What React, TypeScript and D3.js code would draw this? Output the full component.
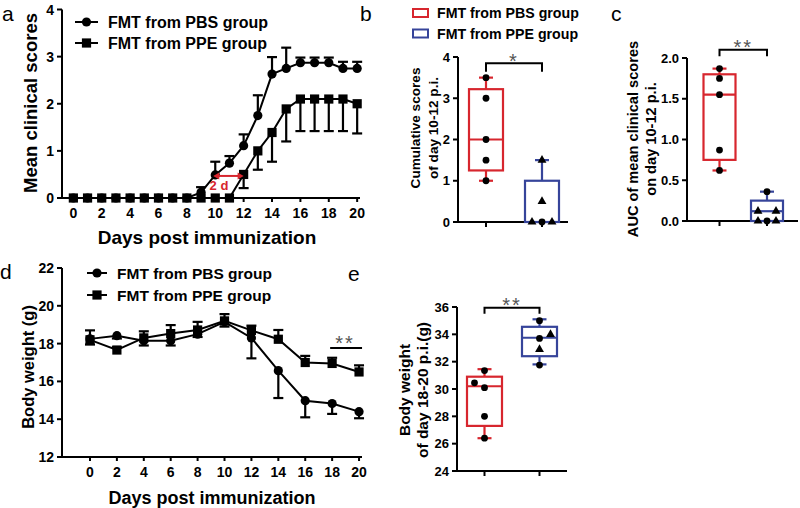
import React from 'react';
import * as d3 from 'd3';

const RED = '#d7262e';
const BLUE = '#36449a';
const FONT = "'Liberation Sans', Arial, Helvetica, sans-serif";

// ---------- Panel a data ----------
const daysA = [0, 1, 2, 3, 4, 5, 6, 7, 8, 9, 10, 11, 12, 13, 14, 15, 16, 17, 18, 19, 20];
const pbsScore = [0, 0, 0, 0, 0, 0, 0, 0, 0, 0.12, 0.49, 0.74, 1.11, 1.75, 2.63, 2.75, 2.87, 2.87, 2.87, 2.75, 2.75];
const pbsScoreErr = [0, 0, 0, 0, 0, 0, 0, 0, 0, 0.11, 0.28, 0.15, 0.24, 0.43, 0.36, 0.44, 0.11, 0.11, 0.11, 0.14, 0.14];
const ppeScore = [0, 0, 0, 0, 0, 0, 0, 0, 0, 0, 0, 0, 0.5, 1.0, 1.39, 1.89, 2.1, 2.1, 2.1, 2.1, 2.0];
const ppeScoreErr = [0, 0, 0, 0, 0, 0, 0, 0, 0, 0, 0, 0, 0.29, 0.4, 0.62, 0.69, 0.68, 0.68, 0.68, 0.68, 0.63];
const ticksA_x = [0, 2, 4, 6, 8, 10, 12, 14, 16, 18, 20];
const ticksA_y = [0, 1, 2, 3, 4];

// ---------- Panel d data ----------
const daysD = [0, 2, 4, 6, 8, 10, 12, 14, 16, 18, 20];
const pbsWeight = [18.25, 18.42, 18.15, 18.15, 18.5, 19.15, 18.3, 16.57, 14.98, 14.83, 14.4];
const pbsWeightErr = [0.3, 0.15, 0.25, 0.25, 0.15, 0.25, 1.08, 1.45, 0.88, 0.55, 0.35];
const ppeWeight = [18.2, 17.66, 18.3, 18.53, 18.72, 19.2, 18.7, 18.23, 17.0, 16.95, 16.5];
const ppeWeightErr = [0.5, 0.15, 0.35, 0.45, 0.43, 0.36, 0.25, 0.49, 0.35, 0.3, 0.35];
const ticksD_y = [12, 14, 16, 18, 20, 22];

const legendLabels = ['FMT from PBS group', 'FMT from PPE group'];

// ---------- Box plot data ----------
// [min, q1, median, q3, max]
const bPbsStats = [1.0, 1.25, 2.0, 3.22, 3.5];
const bPpeStats = [0, 0, 0, 1.0, 1.5];
const bPbsPts = [3.5, 3.0, 2.0, 1.5, 1.0];
const bPpePts = [1.5, 0.5, 0, 0, 0];
const bPpeJit = [0, 0, -10, 0, 10];
const ticksB = [0, 1, 2, 3, 4];

const cPbsStats = [0.62, 0.75, 1.55, 1.8, 1.87];
const cPpeStats = [0, 0, 0.12, 0.25, 0.36];
const cPbsPts = [1.87, 1.75, 1.55, 0.87, 0.62];
const cPpePts = [0.36, 0.12, 0.12, 0, 0, 0];
const cPpeJit = [0, -9, 9, -9, 0, 9];
const ticksC = [0, 0.5, 1.0, 1.5, 2.0];

const ePbsStats = [26.4, 27.3, 30.2, 30.9, 31.45];
const ePpeStats = [31.8, 32.4, 33.75, 34.55, 35.1];
const ePbsPts = [31.35, 30.45, 30.1, 28.0, 26.4];
const ePbsJit = [0, -10, 0, 0, 0];
const ePpePts = [35.0, 34.0, 33.7, 32.9, 31.75];
const ePpeJit = [0, 11, 0, 0, 0];
const ePpeShape = ['c', 't', 'c', 't', 'c'];
const ticksE = [24, 26, 28, 30, 32, 34, 36];

const tri = d3.symbol().type(d3.symbolTriangle).size(34)() as string;

function Marker({ x, y, kind, s = 4.6 }: { x: number; y: number; kind: string; s?: number }) {
  if (kind === 'circle') return <circle cx={x} cy={y} r={s} fill="#000" />;
  return <rect x={x - s} y={y - s} width={2 * s} height={2 * s} fill="#000" />;
}

function LineSeries({ xs, ys, errs, dir, x, y, kind }: any) {
  const line = d3.line<number>().x((d, i) => x(xs[i])).y((d) => y(d));
  return (
    <g>
      <path d={line(ys) as string} fill="none" stroke="#000" strokeWidth={2} />
      {ys.map((v: number, i: number) => {
        const e = errs[i];
        if (!e) return null;
        const ye = y(v + dir * e);
        const xx = x(xs[i]);
        return (
          <g key={i} stroke="#000" strokeWidth={2.2}>
            <line x1={xx} x2={xx} y1={y(v)} y2={ye} />
            <line x1={xx - 5} x2={xx + 5} y1={ye} y2={ye} />
          </g>
        );
      })}
      {ys.map((v: number, i: number) => (
        <Marker key={'m' + i} x={x(xs[i])} y={y(v)} kind={kind} />
      ))}
    </g>
  );
}

function YAxis({ y, ticks, x0, fs, fmt, tl = 5 }: any) {
  const [r0, r1] = y.range();
  return (
    <g>
      <line x1={x0} x2={x0} y1={r0 + 1} y2={r1} stroke="#000" strokeWidth={2} />
      {ticks.map((t: number) => (
        <g key={t}>
          <line x1={x0 - tl} x2={x0} y1={y(t)} y2={y(t)} stroke="#000" strokeWidth={2} />
          <text x={x0 - tl - 3} y={y(t)} textAnchor="end" dominantBaseline="central" fontSize={fs} fontWeight="bold" fontFamily={FONT}>
            {fmt ? fmt(t) : t}
          </text>
        </g>
      ))}
    </g>
  );
}

function Legend({ y0, dy, fs, lineX1, lineX2, textX }: any) {
  return (
    <g>
      {legendLabels.map((lab, i) => (
        <g key={lab}>
          <line x1={lineX1} x2={lineX2} y1={y0 + i * dy} y2={y0 + i * dy} stroke="#000" strokeWidth={2} />
          <Marker x={(lineX1 + lineX2) / 2} y={y0 + i * dy} kind={i === 0 ? 'circle' : 'square'} />
          <text x={textX} y={y0 + i * dy} dominantBaseline="central" fontSize={fs} fontWeight="bold" fontFamily={FONT}>
            {lab}
          </text>
        </g>
      ))}
    </g>
  );
}

function Stars({ x, y, text, fs = 20 }: any) {
  return (
    <text x={x} y={y + fs * 0.57} textAnchor="middle" fontSize={fs} fill="#555" fontFamily={FONT} letterSpacing={2}>
      {text}
    </text>
  );
}

function Box({ cx, w, stats, y, color, capW = 14 }: any) {
  const [mn, q1, md, q3, mx] = stats;
  return (
    <g stroke={color} strokeWidth={2.2} fill="none">
      <line x1={cx} x2={cx} y1={y(q3)} y2={y(mx)} />
      <line x1={cx} x2={cx} y1={y(q1)} y2={y(mn)} />
      <line x1={cx - capW / 2} x2={cx + capW / 2} y1={y(mx)} y2={y(mx)} />
      <line x1={cx - capW / 2} x2={cx + capW / 2} y1={y(mn)} y2={y(mn)} />
      <rect x={cx - w / 2} y={y(q3)} width={w} height={Math.max(0, y(q1) - y(q3))} fill="#fff" />
      <line x1={cx - w / 2} x2={cx + w / 2} y1={y(md)} y2={y(md)} />
    </g>
  );
}

function Pts({ cx, pts, jit, y, shapes }: any) {
  return (
    <g>
      {pts.map((v: number, i: number) => {
        const xx = cx + (jit ? jit[i] : 0);
        const s = shapes[i];
        if (s === 't') return <path key={i} d={tri} transform={`translate(${xx},${y(v)})`} fill="#000" />;
        return <circle key={i} cx={xx} cy={y(v)} r={3.4} fill="#000" />;
      })}
    </g>
  );
}

function BoxPanel({ y, ticks, fmt, axisX, axisEnd, cxs, w, statsA, statsB, ptsA, ptsB, jitA, jitB, shapesA, shapesB, bracketTop, bracketBot, stars, starY, title1, title2, tx1, tx2, ty, tfs, tickFs }: any) {
  const y0 = y.range()[0];
  return (
    <g>
      <YAxis y={y} ticks={ticks} x0={axisX} fs={tickFs} fmt={fmt} tl={5} />
      <line x1={axisX - 1} x2={axisEnd} y1={y0} y2={y0} stroke="#000" strokeWidth={2} />
      {cxs.map((c: number) => (
        <line key={c} x1={c} x2={c} y1={y0} y2={y0 + 5} stroke="#000" strokeWidth={2} />
      ))}
      <Box cx={cxs[0]} w={w} stats={statsA} y={y} color={RED} />
      <Box cx={cxs[1]} w={w} stats={statsB} y={y} color={BLUE} />
      <Pts cx={cxs[0]} pts={ptsA} jit={jitA} y={y} shapes={shapesA} />
      <Pts cx={cxs[1]} pts={ptsB} jit={jitB} y={y} shapes={shapesB} />
      <path d={`M${cxs[0]},${y(bracketBot)}V${y(bracketTop)}H${cxs[1]}V${y(bracketBot)}`} fill="none" stroke="#000" strokeWidth={2} />
      <Stars x={(cxs[0] + cxs[1]) / 2} y={starY} text={stars} />
      <text transform={`translate(${tx1},${ty}) rotate(-90)`} textAnchor="middle" dominantBaseline="central" fontSize={tfs} fontWeight="bold" fontFamily={FONT}>{title1}</text>
      <text transform={`translate(${tx2},${ty}) rotate(-90)`} textAnchor="middle" dominantBaseline="central" fontSize={tfs} fontWeight="bold" fontFamily={FONT}>{title2}</text>
    </g>
  );
}

export default function App() {
  // Panel a scales
  const xA = d3.scaleLinear().domain([-0.8, 20.2]).range([62, 360]);
  const yA = d3.scaleLinear().domain([0, 4]).range([198, 9.5]);
  // Panel d scales
  const xD = d3.scaleLinear().domain([-2.08, 20.22]).range([62, 362]);
  const yD = d3.scaleLinear().domain([12, 22]).range([457, 268]);
  // Box panels
  const yB = d3.scaleLinear().domain([0, 4]).range([222, 57]);
  const yC = d3.scaleLinear().domain([0, 2]).range([221, 58]);
  const yE = d3.scaleLinear().domain([24, 36]).range([471, 307]);

  const arrowY = yA(0.5) + 1.5;
  const ax1 = xA(10) - 2, ax2 = xA(12);

  return (
    <svg width={800} height={508} style={{ position: 'absolute', left: 0, top: 0, background: '#fff' }} fontFamily={FONT}>
      <rect width={800} height={508} fill="#fff" />
      {/* Panel labels */}
      <text x={2} y={21} fontSize={21} fontFamily={FONT}>a</text>
      <text x={360} y={21} fontSize={21} fontFamily={FONT}>b</text>
      <text x={611} y={21} fontSize={21} fontFamily={FONT}>c</text>
      <text x={0} y={279} fontSize={21} fontFamily={FONT}>d</text>
      <text x={348} y={281} fontSize={21} fontFamily={FONT}>e</text>

      {/* ---------- Panel a ---------- */}
      <g>
        <YAxis y={yA} ticks={ticksA_y} x0={62} fs={14} tl={5} />
        <line x1={61} x2={360} y1={198} y2={198} stroke="#000" strokeWidth={2} />
        {ticksA_x.map((t) => (
          <g key={t}>
            <line x1={xA(t)} x2={xA(t)} y1={198} y2={202} stroke="#000" strokeWidth={2} />
            <text x={xA(t)} y={213} textAnchor="middle" dominantBaseline="central" fontSize={14} fontWeight="bold" fontFamily={FONT}>{t}</text>
          </g>
        ))}
        <LineSeries xs={daysA} ys={ppeScore} errs={ppeScoreErr} dir={-1} x={xA} y={yA} kind="square" />
        <LineSeries xs={daysA} ys={pbsScore} errs={pbsScoreErr} dir={1} x={xA} y={yA} kind="circle" />
        <g stroke={RED} strokeWidth={2} fill={RED}>
          <line x1={ax1 + 4} x2={ax2 - 4} y1={arrowY} y2={arrowY} />
          <path d={`M${ax1},${arrowY}l6,-3.5v7z`} stroke="none" />
          <path d={`M${ax2},${arrowY}l-6,-3.5v7z`} stroke="none" />
        </g>
        <text x={219} y={185} textAnchor="middle" dominantBaseline="central" fontSize={13} fill={RED} fontWeight="bold" fontFamily={FONT}>2 d</text>
        <Legend y0={22} dy={21} fs={16} lineX1={75} lineX2={98} textX={108} />
        <text x={207} y={237} textAnchor="middle" dominantBaseline="central" fontSize={19} fontWeight="bold" fontFamily={FONT}>Days post immunization</text>
        <text transform={`translate(30,103) rotate(-90)`} textAnchor="middle" dominantBaseline="central" fontSize={18.5} fontWeight="bold" fontFamily={FONT}>Mean clinical scores</text>
      </g>

      {/* ---------- Panel d ---------- */}
      <g>
        <YAxis y={yD} ticks={ticksD_y} x0={62} fs={14} tl={5} />
        <line x1={61} x2={362} y1={457} y2={457} stroke="#000" strokeWidth={2} />
        {daysD.map((t) => (
          <g key={t}>
            <line x1={xD(t)} x2={xD(t)} y1={457} y2={461} stroke="#000" strokeWidth={2} />
            <text x={xD(t)} y={472} textAnchor="middle" dominantBaseline="central" fontSize={14} fontWeight="bold" fontFamily={FONT}>{t}</text>
          </g>
        ))}
        <LineSeries xs={daysD} ys={pbsWeight} errs={pbsWeightErr} dir={-1} x={xD} y={yD} kind="circle" />
        <LineSeries xs={daysD} ys={ppeWeight} errs={ppeWeightErr} dir={1} x={xD} y={yD} kind="square" />
        <line x1={xD(18) - 2} x2={xD(20) + 3} y1={yD(17.77)} y2={yD(17.77)} stroke="#000" strokeWidth={2} />
        <Stars x={345} y={339} text="**" />
        <Legend y0={273} dy={22} fs={15.5} lineX1={87} lineX2={107} textX={117} />
        <text x={212} y={498} textAnchor="middle" dominantBaseline="central" fontSize={18} fontWeight="bold" fontFamily={FONT}>Days post immunization</text>
        <text transform={`translate(28,367) rotate(-90)`} textAnchor="middle" dominantBaseline="central" fontSize={16.5} fontWeight="bold" fontFamily={FONT}>Body weight (g)</text>
      </g>

      {/* ---------- Legend b ---------- */}
      <g>
        <rect x={413} y={9} width={15} height={8} fill="#fff" stroke={RED} strokeWidth={2} />
        <rect x={413} y={29.5} width={15} height={8} fill="#fff" stroke={BLUE} strokeWidth={2} />
        <text x={437} y={13} dominantBaseline="central" fontSize={14.2} fontWeight="bold" fontFamily={FONT}>{legendLabels[0]}</text>
        <text x={437} y={33.5} dominantBaseline="central" fontSize={14.2} fontWeight="bold" fontFamily={FONT}>{legendLabels[1]}</text>
      </g>

      {/* ---------- Panel b ---------- */}
      <BoxPanel y={yB} ticks={ticksB} axisX={458} axisEnd={568} cxs={[486, 542]} w={34}
        statsA={bPbsStats} statsB={bPpeStats} ptsA={bPbsPts} ptsB={bPpePts} jitA={null} jitB={bPpeJit}
        shapesA={['c', 'c', 'c', 'c', 'c']} shapesB={['t', 't', 't', 'c', 't']}
        bracketTop={3.85} bracketBot={3.64} stars="*" starY={57}
        title1="Cumulative scores" title2="of day 10-12 p.i." tx1={415} tx2={433} ty={128} tfs={13.6} tickFs={13} />

      {/* ---------- Panel c ---------- */}
      <BoxPanel y={yC} ticks={ticksC} fmt={(t: number) => t.toFixed(1)} axisX={687} axisEnd={798} cxs={[719.5, 767]} w={32}
        statsA={cPbsStats} statsB={cPpeStats} ptsA={cPbsPts} ptsB={cPpePts} jitA={null} jitB={cPpeJit}
        shapesA={['c', 'c', 'c', 'c', 'c']} shapesB={['c', 't', 't', 't', 'c', 't']}
        bracketTop={2.1} bracketBot={2.02} stars="**" starY={43}
        title1="AUC of mean clinical scores" title2="on day 10-12 p.i." tx1={633} tx2={651} ty={139} tfs={14.6} tickFs={13} />

      {/* ---------- Panel e ---------- */}
      <BoxPanel y={yE} ticks={ticksE} axisX={457} axisEnd={567} cxs={[484.5, 539.5]} w={35}
        statsA={ePbsStats} statsB={ePpeStats} ptsA={ePbsPts} ptsB={ePpePts} jitA={ePbsJit} jitB={ePpeJit}
        shapesA={['c', 'c', 'c', 'c', 'c']} shapesB={ePpeShape}
        bracketTop={35.95} bracketBot={35.5} stars="**" starY={301}
        title1="Body weight" title2="of day 18-20 p.i.(g)" tx1={404} tx2={422} ty={390} tfs={15.5} tickFs={13} />
    </svg>
  );
}
